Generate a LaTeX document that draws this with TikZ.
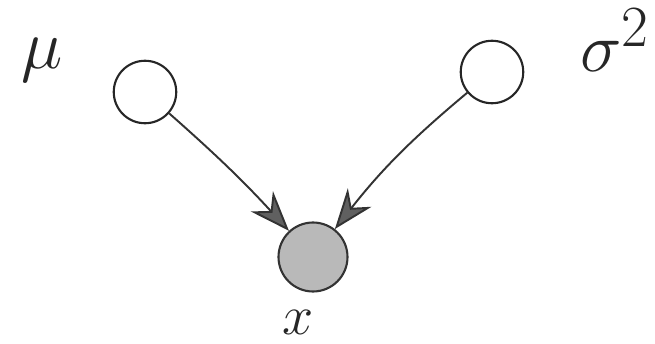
\documentclass[tikz,border=0pt]{standalone}
\usepackage{tikz}
\usepackage{xcolor}
\usetikzlibrary{arrows.meta}

\tikzset{
  param/.style={circle, draw=black!85, line width=1.2pt, minimum size=1.25cm, inner sep=0pt},
  observed/.style={circle, draw=black!80, line width=1.2pt, fill=gray!55, minimum size=1.38cm, inner sep=0pt},
  edge/.style={draw=black!80, line width=1.1pt, -{Stealth[length=8mm,width=6mm,fill=gray!75!black]}},
  handlabel/.style={font=\Huge, scale=1.6, text=black!85}
}

\begin{document}
\begin{tikzpicture}

% Canvas
\useasboundingbox (0,0) rectangle (13.1,6.86);

% Parameters
\node[param] (mu) at (2.9,5.02) {};
\node[param] (sigma) at (9.84,5.42) {};

% Observed variable
\node[observed] (x) at (6.26,1.72) {};

% Labels
\node[handlabel] (mulabel) at (0.85,5.65) {$\mu$};
\node[handlabel] (sigmalabel) at (12.3,6.05) {$\sigma^2$};
\node[handlabel, scale=0.8] (xlabel) at (5.96,0.42) {$x$};

% Edges
\draw[edge] (mu) to[bend left=3] (x);
\draw[edge] (sigma) to[bend right=6] (x);

\end{tikzpicture}
\end{document}
